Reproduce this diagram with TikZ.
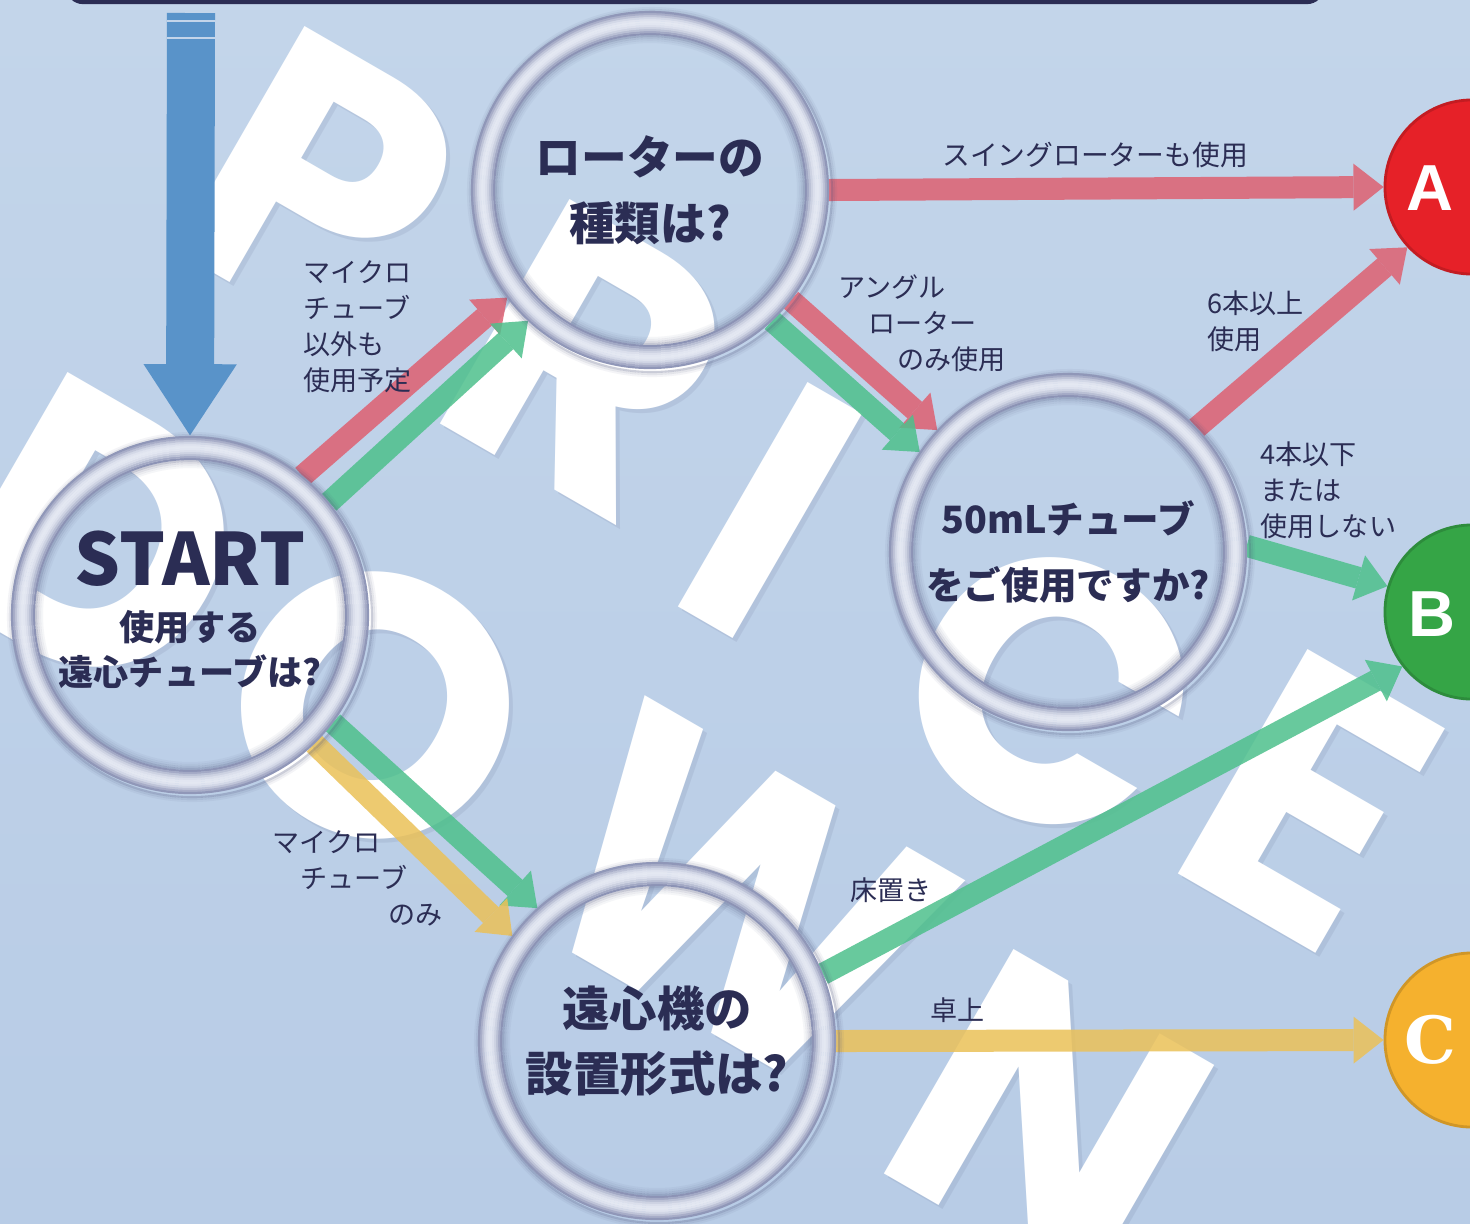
\documentclass[tikz,border=0pt]{standalone}
\usepackage{fontspec}
\setmainfont{Noto Sans CJK JP}
\newfontfamily\resfontA{Liberation Sans}
\newfontfamily\resfontB{DejaVu Serif}
\newfontfamily\wmfont{Poppins}
\usetikzlibrary{arrows.meta}

\definecolor{bgtop}{HTML}{C3D5EA}
\definecolor{bgbot}{HTML}{B8CCE6}
\definecolor{navy}{HTML}{2B2D54}
\definecolor{redarr}{HTML}{DE6071}
\definecolor{grnarr}{HTML}{4EC08C}
\definecolor{yelarr}{HTML}{EBC158}
\definecolor{bluearr}{HTML}{5993C9}
\definecolor{ringdk}{HTML}{878EB2}
\definecolor{ringlt}{HTML}{E4E8F2}
\definecolor{shadowc}{HTML}{4A5078}
\definecolor{resA}{HTML}{E62128}
\definecolor{resB}{HTML}{35A546}
\definecolor{resC}{HTML}{F5B12E}

\pgfdeclarelayer{bg}
\pgfdeclarelayer{wm}
\pgfdeclarelayer{arr}
\pgfdeclarelayer{ring}
\pgfsetlayers{bg,wm,arr,ring,main}

\begin{document}
\begin{tikzpicture}[x=0.01cm, y=-0.01cm,
    qring/.style={circle, minimum size=3.56cm, inner sep=0pt, align=center, text=navy},
    result/.style={circle, minimum size=1.74cm, inner sep=0pt, fill=#1, draw=#1!85!black, line width=0.8pt},
    restxt/.style={text=white, inner sep=0pt},
    lbl/.style={text=navy, font=\fontsize{7.7}{10.2}\selectfont, align=left, inner sep=0pt},
    wmark/.style={text=white, font=\wmfont\fontsize{105}{105}\selectfont\bfseries, rotate=-30},
    way/.style={line width=0.22cm, opacity=0.85, -{Triangle[length=0.3cm,width=0.47cm,line width=0pt]}},
    redway/.style={way, draw=redarr},
    greenway/.style={way, draw=grnarr},
    yellowway/.style={way, draw=yelarr}]

  \useasboundingbox (0,0) rectangle (1470,1223);
  \begin{pgfonlayer}{bg}
    \shade[top color=bgtop, bottom color=bgbot] (0,0) rectangle (1470,1223);
  \end{pgfonlayer}
  \draw[navy, line width=1.2pt, rounded corners=0.15cm] (68,-60) rectangle (1322,2);

  % watermark
  \begin{pgfonlayer}{wm}
    \foreach \ch/\px/\py in {P/320/185, R/590/360, I/770/510, C/1050/690, E/1310/800,
                             D/100/540, O/375/705, W/740/900, N/1050/1120} {
      \node[wmark, text=shadowc, opacity=0.10] at (\px+4,\py+4) {\ch};
      \node[wmark] (wm\ch) at (\px,\py) {\ch};
    }
  \end{pgfonlayer}

  % questions
  \node[qring, font=\fontsize{10}{12.8}\selectfont\bfseries] (start) at (190,615)
    {\raisebox{0.115cm}{\begin{tabular}{@{}c@{}}{\fontsize{20.5}{21}\selectfont START}\\[3pt]使用する\\遠心チューブは?\end{tabular}}};
  \node[qring, font=\fontsize{13}{18.8}\selectfont\bfseries] (rotor) at (650,190) {ローターの\\種類は?};
  \node[qring, font=\fontsize{10.7}{19}\selectfont\bfseries] (tube) at (1068,552) {50mLチューブ\\をご使用ですか?};
  \node[qring, font=\fontsize{13.5}{18.5}\selectfont\bfseries] (setup) at (657,1041) {遠心機の\\設置形式は?};

  \begin{pgfonlayer}{ring}
    \foreach \q in {start,rotor,tube,setup} {
      \foreach \r/\o in {148/0.05, 150/0.1, 152/0.18, 154/0.3}
        \draw[shadowc, opacity=\o, line width=0.021cm] (\q.center) circle (\r*0.01cm);
      \foreach \r/\o in {180/0.28, 182/0.14, 184/0.06}
        \draw[shadowc, opacity=\o, line width=0.021cm] ([shift={(2,2)}]\q.center) circle (\r*0.01cm);
      \foreach \r/\p in {156/5, 158/30, 160/55, 162/75, 164/90, 166/98, 168/100, 170/95, 172/82, 174/60, 176/35, 178/10}
        \draw[ringlt!\p!ringdk, line width=0.022cm] (\q.center) circle (\r*0.01cm);
    }
  \end{pgfonlayer}

  % results
  \node[result=resA] (A) at (1472,187) {};
  \node[result=resB] (B) at (1472,612) {};
  \node[result=resC] (C) at (1472,1040) {};
  \node[restxt, font=\resfontA\bfseries\fontsize{18.5}{18.5}\selectfont] (labA) at (1430,188) {A};
  \node[restxt, font=\resfontA\bfseries\fontsize{18.5}{18.5}\selectfont] (labB) at (1432,614) {B};
  \node[restxt, font=\resfontB\bfseries\fontsize{18.5}{18.5}\selectfont] (labC) at (1430,1040) {C};

  % feed arrow
  \coordinate (feed) at (191,13);
  \begin{pgfonlayer}{arr}
    \draw[bluearr, line width=0.48cm, -{Triangle[length=0.72cm,width=0.88cm]}] (feed) -- (start.north);
    \foreach \y in {21,38}
      \draw[bgtop, line width=0.6pt] (167,\y) -- (215,\y);

    \draw[redway] (start.51) -- (rotor.217);
    \draw[greenway] (start.39) -- (rotor.227);
    \draw[redway] (rotor.east) -- (A.west);
    \draw[redway] (rotor.322) -- (tube.137);
    \draw[greenway] (rotor.313) -- (tube.146);
    \draw[redway] (tube.44) -- (A.223);
    \draw[greenway] (tube.2) -- (B.163);
    \draw[greenway] (setup.22) -- (B.218);
    \draw[yellowway] (setup.east) -- (C.west);
    \draw[greenway] (start.323) -- (setup.132);
    \draw[yellowway] (start.314) -- (setup.144);
  \end{pgfonlayer}

  % labels
  \node[lbl, anchor=north west] (lmicro) at (303,260) {マイクロ\\チューブ\\以外も\\使用予定};
  \node[lbl, font=\fontsize{7.9}{10.2}\selectfont] (lswing) at (1095,155) {スイングローターも使用};
  \node[lbl, anchor=north west] (langle) at (838,274) {アングル\\\hspace*{0.3cm}ローター\\\hspace*{0.59cm}のみ使用};
  \node[lbl, anchor=north west] (lsix) at (1207,290) {6本以上\\使用};
  \node[lbl, anchor=north west] (lfour) at (1260,441) {4本以下\\または\\使用しない};
  \node[lbl, anchor=north west] (lonly) at (272,830) {マイクロ\\\hspace*{0.28cm}チューブ\\\hspace*{1.16cm}のみ};
  \node[lbl, anchor=north west] (lfloor) at (850,877) {床置き};
  \node[lbl, anchor=north west] (ldesk) at (930,997) {卓上};
\end{tikzpicture}
\end{document}
